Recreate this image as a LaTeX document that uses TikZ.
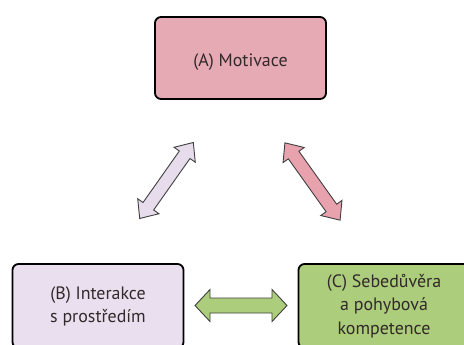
\documentclass[tikz,border=0pt]{standalone}
\usepackage{fontspec}
\setmainfont{PT Sans}
\definecolor{pinkA}{HTML}{E5AAB4}
\definecolor{lavB}{HTML}{EADFEE}
\definecolor{greenC}{HTML}{ABCD7C}
\definecolor{pinkArr}{HTML}{E8A2AE}
\definecolor{lavArr}{HTML}{E6DCEC}
\definecolor{txt}{HTML}{33282A}
\tikzset{
  box/.style={draw=black, line width=1.8bp, rounded corners=6bp, minimum width=171bp,
    align=center, text=txt, font=\fontsize{18}{23}\selectfont, inner sep=0pt},
  barrow/.style={draw=black!75, line width=0.9bp, line join=miter}
}
% block double arrow: #1 length, #2 shaft half width, #3 head half width, #4 head length
\newcommand{\blockarrow}[5]{%
  \path[#5] (-#1/2,0) -- (-#1/2+#4,-#3) -- (-#1/2+#4,-#2) -- (#1/2-#4,-#2) -- (#1/2-#4,-#3)
    -- (#1/2,0) -- (#1/2-#4,#3) -- (#1/2-#4,#2) -- (-#1/2+#4,#2) -- (-#1/2+#4,#3) -- cycle;}
\begin{document}
\begin{tikzpicture}[x=1bp,y=-1bp]
\useasboundingbox (0,0) rectangle (464,344);
\clip (0,0) rectangle (464,344);
\fill[white] (0,0) rectangle (464,344);
\node[box, fill=pinkA, minimum height=82bp] (A) at (240.5,58) {\raisebox{-4bp}[\height][\depth]{(A) Motivace}};
\node[box, fill=lavB, minimum height=84bp, font=\fontsize{18}{23}\selectfont] (B) at (98,306) {(B) Interakce\\s prostředím};
\node[box, fill=greenC, minimum height=84bp, font=\fontsize{18}{23.5}\selectfont] (C) at (384,306) {(C) Sebedůvěra\\a pohybová\\kompetence};
\coordinate (AB) at (166.5,180.5);
\coordinate (AC) at (312.5,181.5);
\coordinate (BC) at (241,305.5);
\begin{scope}[shift={(AB)}, rotate=54.8]
  \blockarrow{93}{6.5}{13}{15}{barrow, fill=lavArr}
\end{scope}
\begin{scope}[shift={(AC)}, rotate=-54.5]
  \blockarrow{95}{6.5}{13}{15}{barrow, fill=pinkArr}
\end{scope}
\begin{scope}[shift={(BC)}]
  \blockarrow{92}{7.5}{16}{15}{barrow, fill=greenC}
\end{scope}
\end{tikzpicture}
\end{document}
